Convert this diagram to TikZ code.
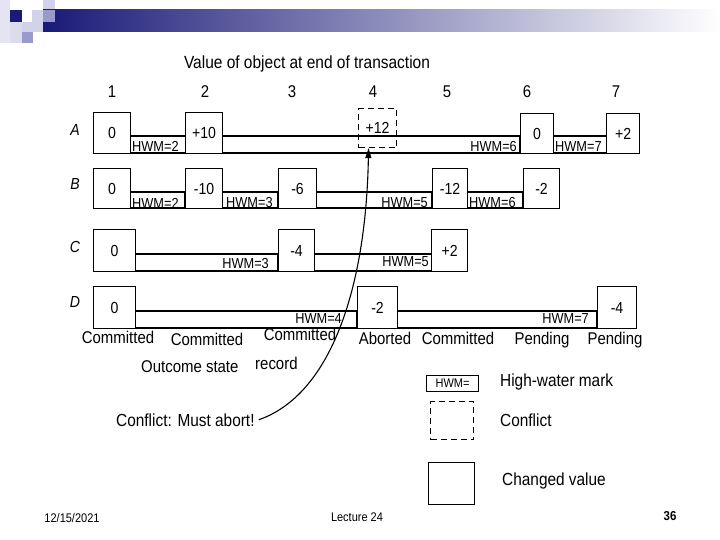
\documentclass[tikz,border=0pt]{standalone}
\usepackage{fontspec}
\setmainfont[FakeStretch=0.88]{Liberation Sans}
\usepackage{xcolor}
\usetikzlibrary{arrows.meta,positioning}

\definecolor{navyblue}{HTML}{1A1A78}
\definecolor{lilac}{HTML}{D2D2EA}
\definecolor{midlilac}{HTML}{9A9ACC}

\begin{document}
\begin{tikzpicture}[
    x=1pt, y=-1pt,
    every node/.style={inner sep=0pt, font=\fontsize{16}{18}\selectfont},
    valbox/.style={draw, fill=white, line width=1.1pt, anchor=north west},
    conflictbox/.style={draw, dash pattern=on 6pt off 4pt, line width=1.1pt, anchor=north west},
    band/.style={draw, line width=1.1pt},
    hwm/.style={font=\fontsize{14.5}{16}\selectfont},
    outcome/.style={anchor=base, font=\fontsize{17}{19}\selectfont},
    colnum/.style={font=\fontsize{17}{19}\selectfont},
    rowname/.style={font=\fontsize{16}{18}\selectfont\itshape},
    legendtext/.style={anchor=west, font=\fontsize{17.5}{19}\selectfont},
    thickbar/.style={line width=2.6pt},
    arrow/.style={-{Triangle[length=10pt,width=6pt]}, line width=1.1pt}
]
\useasboundingbox (0,0) rectangle (720,540);

% slide header
\fill[lilac!60] (0,0) rectangle (10,43);
\fill[lilac!80] (10,22) rectangle (22,43);
\fill[navyblue] (10,10) rectangle (22,22);
\fill[lilac] (32,10) rectangle (43,22);
\fill[lilac] (22,22) rectangle (43,32);
\fill[midlilac] (22,32) rectangle (33,43);
\fill[lilac] (43,0) rectangle (55,10);
\shade[left color=navyblue, right color=white] (43,10) rectangle (720,32);
\fill[midlilac] (43,10) rectangle (55,22);

\node (title) at (307,64) {\fontsize{17.6}{20}\selectfont Value of object at end of transaction};

% transaction numbers
\foreach \n/\x in {1/112, 2/205, 3/292, 4/373, 5/447, 6/527, 7/616}
    \node[colnum] (col\n) at (\x,92) {\n};

% object names
\node[rowname] (rowa) at (75,130) {A};
\node[rowname] (rowb) at (75,184) {B};
\node[rowname] (rowc) at (75,247) {C};
\node[rowname] (rowd) at (75,302) {D};

% high-water mark bands
\draw[band] (130,136) rectangle (187,153);
\draw[band] (222,136) rectangle (520,153);
\draw[band] (553,136) rectangle (608,153);
\draw[band] (130,192) rectangle (185,208);
\draw[band] (222,192) rectangle (278,208);
\draw[band] (316,192) rectangle (432,208);
\draw[band] (467,192) rectangle (523,208);
\draw[band] (135,254) rectangle (278,271);
\draw[band] (314,254) rectangle (432,271);
\draw[band] (135,311) rectangle (358,328);
\draw[band] (397,311) rectangle (597,328);

\foreach \x/\y in {130/136, 222/136, 553/136, 130/192, 222/192, 316/192,
                   467/192, 523/192, 135/254, 314/254, 135/311, 357/311, 397/311}
    \draw[thickbar] (\x,\y) -- ++(0,17);

\node[hwm, anchor=west] (ha2) at (132,146) {HWM=2};
\node[hwm, anchor=east] (ha6) at (517,147) {HWM=6};
\node[hwm, anchor=west] (ha7) at (555,147) {HWM=7};
\node[hwm, anchor=west] (hb2) at (132,203) {HWM=2};
\node[hwm, anchor=west] (hb3) at (226,203) {HWM=3};
\node[hwm, anchor=east] (hb5) at (428,203) {HWM=5};
\node[hwm, anchor=west] (hb6) at (469,203) {HWM=6};
\node[hwm, anchor=east] (hc3) at (269,264) {HWM=3};
\node[hwm, anchor=east] (hc5) at (429,262) {HWM=5};
\node[hwm, anchor=east] (hd4) at (342,319) {HWM=4};
\node[hwm, anchor=east] (hd7) at (589,319) {HWM=7};

% changed values
\node[valbox, minimum width=37, minimum height=41] (a1) at (93,112) {0};
\node[valbox, minimum width=37, minimum height=41] (a2) at (185,112) {+10};
\node[conflictbox, minimum width=38, minimum height=39] (a4) at (358,108) {+12};
\node[valbox, minimum width=33, minimum height=40] (a6) at (520,113) {0};
\node[valbox, minimum width=33, minimum height=40] (a7) at (606,113) {+2};

\node[valbox, minimum width=37, minimum height=40] (b1) at (93,168) {0};
\node[valbox, minimum width=37, minimum height=40] (b2) at (185,168) {-10};
\node[valbox, minimum width=38, minimum height=40] (b3) at (278,168) {-6};
\node[valbox, minimum width=35, minimum height=40] (b5) at (432,168) {-12};
\node[valbox, minimum width=36, minimum height=40] (b6) at (523,168) {-2};

\node[valbox, minimum width=42, minimum height=42] (c1) at (93,229) {0};
\node[valbox, minimum width=36, minimum height=42] (c3) at (278,229) {-4};
\node[valbox, minimum width=36, minimum height=42] (c5) at (431,229) {+2};

\node[valbox, minimum width=42, minimum height=42] (d1) at (93,286) {0};
\node[valbox, minimum width=40, minimum height=42] (d4) at (357,286) {-2};
\node[valbox, minimum width=39, minimum height=42] (d7) at (597,286) {-4};

% outcome of each transaction
\node[outcome] (o1) at (118,343) {Committed};
\node[outcome] (o2) at (207,345) {Committed};
\node[outcome] (o3) at (300,340) {Committed};
\node[outcome] (o4) at (385,344) {Aborted};
\node[outcome] (o5) at (458,344) {Committed};
\node[outcome] (o6) at (542,344) {Pending};
\node[outcome] (o7) at (615,344) {Pending};

\node[outcome, anchor=base west] (state) at (141,372) {Outcome state};
\node[outcome, anchor=base west] (record) at (255,369) {record};

\node[anchor=base west, inner xsep=4pt, font=\fontsize{17.5}{19}\selectfont] (abort) at (112,426) {Conflict: Must abort!};
\draw[arrow] (abort.east) .. controls (330,395) and (366,290) .. ([xshift=-9pt]a4.south);

% legend
\node[draw, line width=1.1pt, minimum width=52, minimum height=16, anchor=north west,
      font=\fontsize{12.5}{13}\selectfont] (keyhwm) at (426,375) {HWM=};
\node[legendtext] (texthwm) at (500,382) {High-water mark};
\node[conflictbox, minimum width=43, minimum height=38] (keyconflict) at (430,401) {};
\node[legendtext] (textconflict) at (500,420) {Conflict};
\node[draw, line width=1.1pt, minimum width=46, minimum height=42, anchor=north west] (keyvalue) at (428,462) {};
\node[legendtext] (textvalue) at (502,481) {Changed value};

% footer
\node[font=\fontsize{12.5}{14}\selectfont] (date) at (72,518) {12/15/2021};
\node[font=\fontsize{12.5}{14}\selectfont] (lecture) at (357,517) {Lecture 24};
\node[font=\fontsize{13}{15}\selectfont\bfseries] (page) at (670,516) {36};
\end{tikzpicture}
\end{document}
